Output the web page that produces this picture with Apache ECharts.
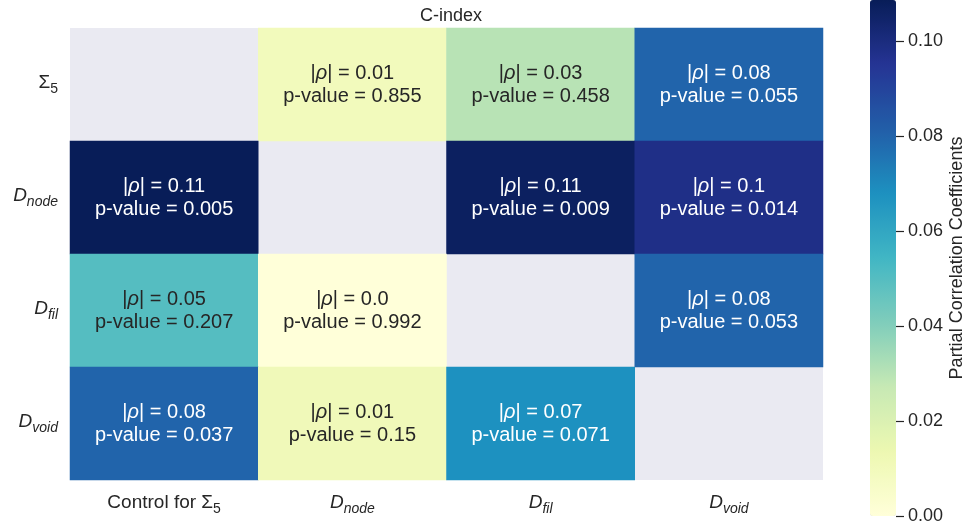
<!DOCTYPE html>
<html>
<head>
<meta charset="utf-8">
<script src="https://cdn.jsdelivr.net/npm/echarts@6/dist/echarts.min.js"></script>
<style>
html,body{margin:0;padding:0;background:#fff;}
#chart{width:970px;height:526px;}
</style>
</head>
<body>
<div id="chart"></div>
<script>
// ---- data ----
var colKeys = ['ctrl', 'node', 'fil', 'void'];
var rowKeys = ['sigma', 'node', 'fil', 'void'];
// partial correlation |rho| (estimated from colours), null = diagonal
var rhoRow0 = [null, 0.010, 0.030, 0.080];
var rhoRow1 = [0.1087, null, 0.107, 0.098];
var rhoRow2 = [0.050, 0.000, null, 0.080];
var rhoRow3 = [0.080, 0.011, 0.068, null];
// printed labels
var rhoText0 = [null, '0.01', '0.03', '0.08'];
var rhoText1 = ['0.11', null, '0.11', '0.1'];
var rhoText2 = ['0.05', '0.0', null, '0.08'];
var rhoText3 = ['0.08', '0.01', '0.07', null];
var pText0 = [null, '0.855', '0.458', '0.055'];
var pText1 = ['0.005', null, '0.009', '0.014'];
var pText2 = ['0.207', '0.992', null, '0.053'];
var pText3 = ['0.037', '0.15', '0.071', null];
var cbTickMin = 0, cbTickMax = 0.10, cbTickStep = 0.02;
var vMin = 0, vMax = 0.1087;

var rhoRows = [rhoRow0, rhoRow1, rhoRow2, rhoRow3];
var rhoTexts = [rhoText0, rhoText1, rhoText2, rhoText3];
var pTexts = [pText0, pText1, pText2, pText3];

var FONT = '"Liberation Sans", Arial, sans-serif';
var DARK = '#262626';
var ylgnbu = ['#ffffd9','#edf8b1','#c7e9b4','#7fcdbb','#41b6c4','#1d91c0','#225ea8','#253494','#081d58'];

var data = [];
for (var r = 0; r < 4; r++) {
  for (var c = 0; c < 4; c++) {
    var v = rhoRows[r][c];
    if (v === null) continue;
    data.push({
      value: [c, r, v],
      rhoT: rhoTexts[r][c],
      pT: pTexts[r][c],
      label: { color: v > 0.06 ? '#ffffff' : DARK }
    });
  }
}

var richAxis = {
  n: { fontSize: 19, fontFamily: FONT, color: DARK, lineHeight: 22, verticalAlign: 'top' },
  d: { fontSize: 19, fontFamily: FONT, fontStyle: 'italic', color: DARK, lineHeight: 22, verticalAlign: 'top' },
  s: { fontSize: 14, fontFamily: FONT, color: DARK, lineHeight: 15, padding: [9, 0, 0, 0], verticalAlign: 'top' },
  si: { fontSize: 14, fontFamily: FONT, fontStyle: 'italic', color: DARK, lineHeight: 15, padding: [9, 0, 0, 0], verticalAlign: 'top' }
};

function colLabel(k) {
  if (k === 'ctrl') return '{n|Control for Σ}{s|5}';
  return '{d|D}{si|' + k + '}';
}
function rowLabel(k) {
  if (k === 'sigma') return '{n|Σ}{s|5}';
  return '{d|D}{si|' + k + '}';
}

// colourbar geometry: bar spans vMin..vMax over 516px; tick axis spans 0..0.10
var cbTop = 0, cbH = 516;
var tickTop = cbTop + cbH * (1 - (cbTickMax - vMin) / (vMax - vMin));

var chart = echarts.init(document.getElementById('chart'));
chart.setOption({
  animation: false,
  backgroundColor: '#ffffff',
  title: {
    text: 'C-index', left: 446, top: 2, textAlign: 'center',
    textStyle: { fontFamily: FONT, fontSize: 18, fontWeight: 'normal', color: DARK }
  },
  grid: [
    { left: 70, top: 28, width: 753, height: 452, show: true, backgroundColor: '#eaeaf2', borderWidth: 0 },
    { left: 870, top: cbTop, width: 26, height: cbH, show: false },
    { left: 870, top: tickTop, width: 26, height: cbH - tickTop + cbTop, show: false }
  ],
  xAxis: [
    { type: 'category', gridIndex: 0, data: colKeys, axisLine: { show: false }, axisTick: { show: false },
      splitLine: { show: false },
      axisLabel: { margin: 13, formatter: colLabel, rich: richAxis } },
    { type: 'value', gridIndex: 1, show: false, min: 0, max: 1 },
    { type: 'value', gridIndex: 2, show: false, min: 0, max: 1 }
  ],
  yAxis: [
    { type: 'category', gridIndex: 0, data: rowKeys, inverse: true, axisLine: { show: false }, axisTick: { show: false },
      splitLine: { show: false },
      axisLabel: { margin: 12, formatter: rowLabel, rich: richAxis } },
    { type: 'value', gridIndex: 1, position: 'right', min: vMin, max: vMax,
      axisLine: { show: false, onZero: false }, splitLine: { show: false }, axisTick: { show: false }, axisLabel: { show: false },
      name: 'Partial Correlation Coefficients', nameLocation: 'middle', nameGap: 52, nameRotate: 90,
      nameTextStyle: { fontFamily: FONT, fontSize: 18, color: DARK } },
    { type: 'value', gridIndex: 2, position: 'right', min: cbTickMin, max: cbTickMax, interval: cbTickStep, z: 20,
      axisLine: { show: false, onZero: false }, splitLine: { show: false },
      axisTick: { show: true, inside: false, length: 8, lineStyle: { color: DARK, width: 1.2 } },
      axisLabel: { margin: 12, fontFamily: FONT, fontSize: 18, color: DARK,
        formatter: function (v) { return v.toFixed(2); } } }
  ],
  visualMap: {
    type: 'continuous', min: vMin, max: vMax, seriesIndex: 0, calculable: false,
    orient: 'vertical', left: 870, top: cbTop, itemWidth: 26, itemHeight: cbH, padding: 0,
    inRange: { color: ylgnbu }, hoverLink: false, z: 1
  },
  series: [{
    type: 'heatmap', xAxisIndex: 0, yAxisIndex: 0, data: data,
    label: {
      show: true, fontFamily: FONT, fontSize: 20, lineHeight: 23,
      formatter: function (p) {
        return '{n||}{i|ρ}{n|| = ' + p.data.rhoT + '}\n{n|p-value = ' + p.data.pT + '}';
      },
      rich: {
        n: { fontFamily: FONT, fontSize: 20, lineHeight: 23 },
        i: { fontFamily: FONT, fontSize: 20, lineHeight: 23, fontStyle: 'italic' }
      }
    },
    itemStyle: { borderWidth: 0 },
    emphasis: { disabled: true }
  }]
});
</script>
</body>
</html>
